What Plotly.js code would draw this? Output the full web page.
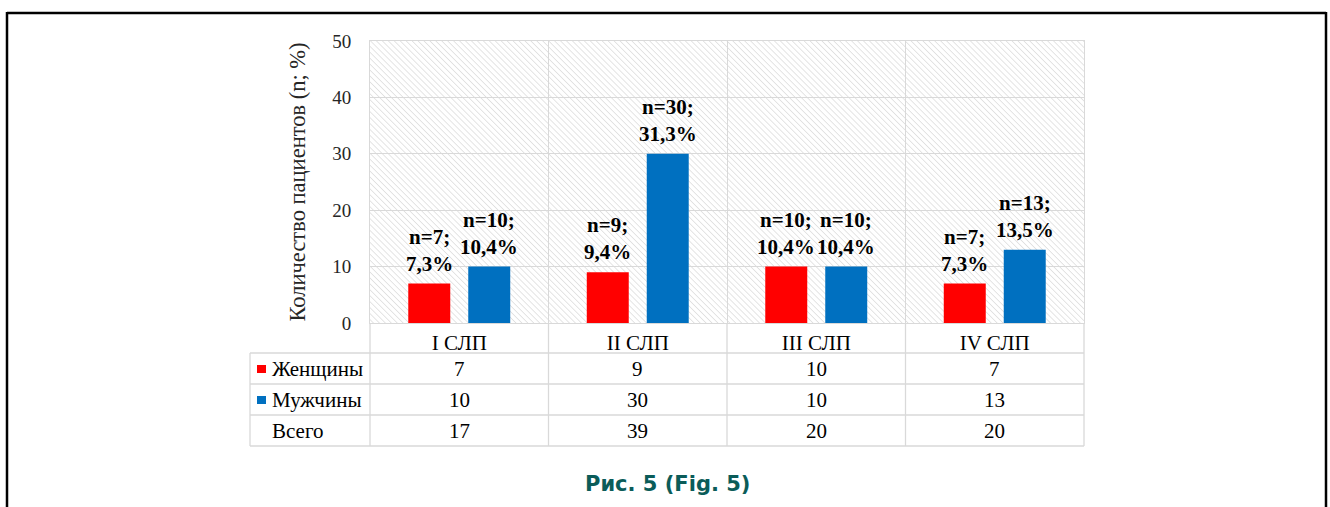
<!DOCTYPE html>
<html>
<head>
<meta charset="utf-8">
<script src="https://cdn.plot.ly/plotly-3.0.1.min.js"></script>
<style>
html,body{margin:0;padding:0;background:#fff;}
#chart{width:1330px;height:507px;}
</style>
</head>
<body>
<div id="chart"></div>
<script>
// ---- data ----
const categories = ['I СЛП', 'II СЛП', 'III СЛП', 'IV СЛП'];
const womenN = [7, 9, 10, 7];
const womenPct = [7.3, 9.4, 10.4, 7.3];
const menN = [10, 30, 10, 13];
const menPct = [10.4, 31.3, 10.4, 13.5];
const totals = [17, 39, 20, 20];
const seriesNames = ['Женщины', 'Мужчины'];
const totalLabel = 'Всего';
const yTicks = [0, 10, 20, 30, 40, 50];
const yTitle = 'Количество пациентов (n; %)';
const caption = 'Рис. 5 (Fig. 5)';

// ---- styles / geometry ----
const RED = '#ff0000', BLUE = '#0070c0', GRID = '#d9d9d9';
const SERIF = 'Liberation Serif';
const L = 370, R = 1084, T = 41, B = 323;
const W = R - L, H = B - T;
const px = x => (x - L) / W;
const py = y => (B - y) / H;

const fmt = v => v.toFixed(1).replace('.', ',');

const traces = [
  {type: 'bar', name: seriesNames[0], x: categories, y: womenN, marker: {color: RED}, hoverinfo: 'none'},
  {type: 'bar', name: seriesNames[1], x: categories, y: menN, marker: {color: BLUE}, hoverinfo: 'none'}
];

const annotations = [];
// bar labels
const labelFont = {family: SERIF, size: 21, color: '#000', weight: 'bold'};
categories.forEach((c, i) => {
  annotations.push({x: c, y: womenN[i], xref: 'x', yref: 'y', text: 'n=' + womenN[i] + ';<br>' + fmt(womenPct[i]) + '%',
    showarrow: false, yanchor: 'bottom', xanchor: 'center', xshift: -30, yshift: 6, font: labelFont});
  annotations.push({x: c, y: menN[i], xref: 'x', yref: 'y', text: 'n=' + menN[i] + ';<br>' + fmt(menPct[i]) + '%',
    showarrow: false, yanchor: 'bottom', xanchor: 'center', xshift: 30, yshift: 6, font: labelFont});
});
// table
const cellFont = {family: SERIF, size: 21, color: '#000'};
const rowsY = [368.5, 399.5, 430.5];
const rowsData = [womenN, menN, totals];
rowsData.forEach((arr, r) => {
  arr.forEach((v, i) => {
    annotations.push({x: (i + 0.5) / 4, y: py(rowsY[r]), xref: 'paper', yref: 'paper', text: String(v),
      showarrow: false, xanchor: 'center', yanchor: 'middle', font: cellFont});
  });
});
const rowNames = [seriesNames[0], seriesNames[1], totalLabel];
rowNames.forEach((n, r) => {
  annotations.push({x: px(270), y: py(rowsY[r]), xref: 'paper', yref: 'paper', text: n,
    showarrow: false, xanchor: 'left', yanchor: 'middle', font: cellFont});
});
// caption
annotations.push({x: px(667), y: py(484), xref: 'paper', yref: 'paper', text: '<b>' + caption + '</b>',
  showarrow: false, xanchor: 'center', yanchor: 'middle',
  font: {family: 'DejaVu Sans', size: 21, color: '#0b5c59'}});

const shapes = [];
const line = (x0, y0, x1, y1, color, width) => shapes.push({type: 'line', xref: 'paper', yref: 'paper',
  x0: px(x0), y0: py(y0), x1: px(x1), y1: py(y1), line: {color: color, width: width}, layer: 'above'});
// table grid
[353, 384, 415, 446].forEach(y => line(250, y, R, y, GRID, 1.3));
line(250, 353, 250, 446, GRID, 1.3);
for (let k = 0; k <= 4; k++) {
  const x = L + k * W / 4;
  line(x, B, x, 446, GRID, 1.3);
}
// legend keys
shapes.push({type: 'rect', xref: 'paper', yref: 'paper', x0: px(257), x1: px(266), y0: py(373), y1: py(365),
  fillcolor: RED, line: {width: 0}});
shapes.push({type: 'rect', xref: 'paper', yref: 'paper', x0: px(257), x1: px(266), y0: py(404), y1: py(396),
  fillcolor: BLUE, line: {width: 0}});
// outer frame
line(7, 13, 1326, 13, '#000', 2.5);
line(7, 12, 7, 520, '#000', 2.5);
line(1326, 12, 1326, 520, '#000', 2.5);

// hatch background
const hatchSvg = '<svg xmlns="http://www.w3.org/2000/svg" width="' + W + '" height="' + H + '">' +
  '<defs><pattern id="p" patternUnits="userSpaceOnUse" width="4.2" height="4.2" patternTransform="rotate(-45)">' +
  '<line x1="0" y1="0" x2="0" y2="4.2" stroke="#cfcfcf" stroke-width="1.1"/></pattern></defs>' +
  '<rect width="100%" height="100%" fill="#ffffff"/><rect width="100%" height="100%" fill="url(#p)"/></svg>';
const hatchUrl = 'data:image/svg+xml;charset=utf-8,' + encodeURIComponent(hatchSvg);

const layout = {
  width: 1330, height: 507,
  margin: {l: L, r: 1330 - R, t: T, b: 507 - B, pad: 0},
  paper_bgcolor: '#fff', plot_bgcolor: 'rgba(0,0,0,0)',
  barmode: 'group', bargap: 0.328, bargroupgap: 0.3,
  showlegend: false,
  xaxis: {type: 'category', range: [-0.5, 3.5], tickson: 'boundaries', showgrid: true, gridcolor: GRID, gridwidth: 1,
    showline: true, linecolor: GRID, linewidth: 1, mirror: true, ticks: '', fixedrange: true,
    tickfont: {family: SERIF, size: 21, color: '#000'}, ticklabelstandoff: 1},
  yaxis: {range: [0, 50], tickvals: yTicks, ticktext: yTicks.map(String), showgrid: true, gridcolor: GRID, gridwidth: 1,
    zeroline: false, showline: true, linecolor: GRID, mirror: true, ticks: '', fixedrange: true,
    tickfont: {family: SERIF, size: 19, color: '#262626'}, ticklabelstandoff: 14,
    title: {text: yTitle, font: {family: SERIF, size: 22.5, color: '#262626'}, standoff: 20}},
  images: [{source: hatchUrl, xref: 'paper', yref: 'paper', x: 0, y: 1, sizex: 1, sizey: 1,
    sizing: 'stretch', layer: 'below', xanchor: 'left', yanchor: 'top'}],
  shapes: shapes,
  annotations: annotations
};

Plotly.newPlot('chart', traces, layout, {staticPlot: true, displayModeBar: false});
</script>
</body>
</html>
